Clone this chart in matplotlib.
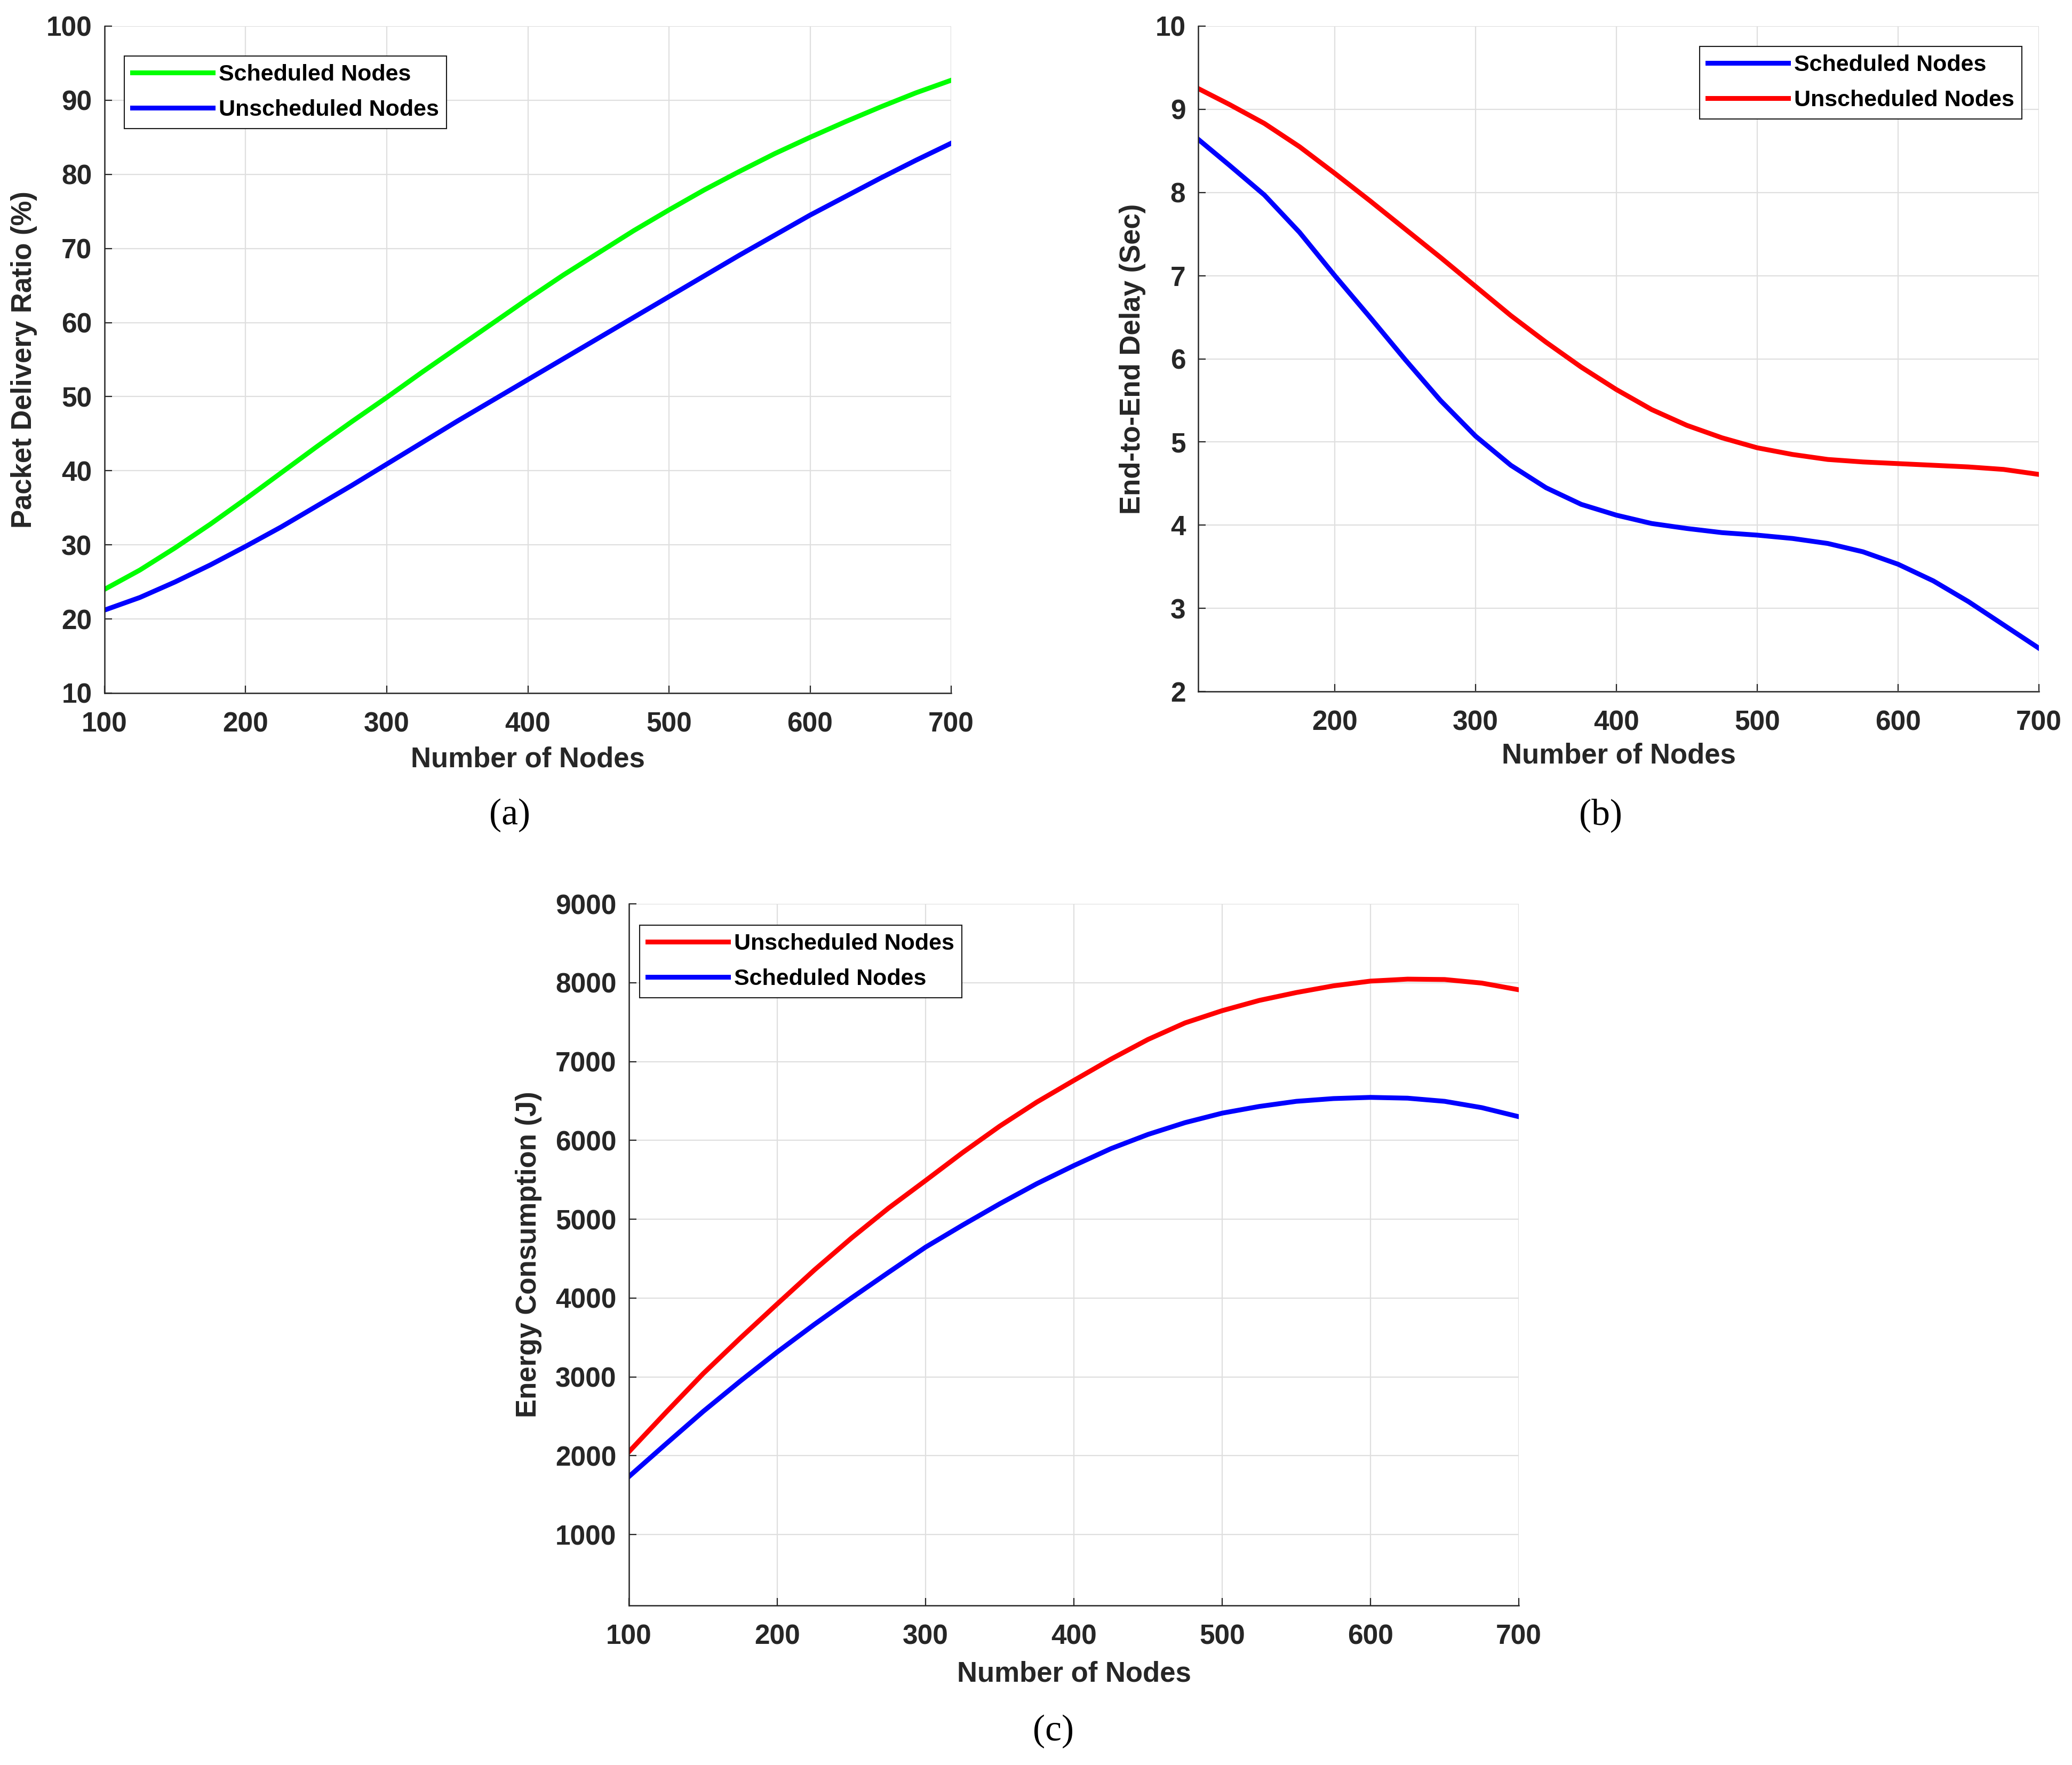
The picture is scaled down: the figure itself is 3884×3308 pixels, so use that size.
import matplotlib.pyplot as plt

# number of nodes (x axis), read every 25 nodes
nodes = [100, 125, 150, 175, 200, 225, 250, 275, 300, 325, 350, 375, 400,
         425, 450, 475, 500, 525, 550, 575, 600, 625, 650, 675, 700]
delay_nodes = [103, 125, 150, 175, 200, 225, 250, 275, 300, 325, 350, 375, 400,
               425, 450, 475, 500, 525, 550, 575, 600, 625, 650, 675, 700]

# (a) packet delivery ratio (%)
pdr_scheduled = [24.0, 26.6, 29.6, 32.8, 36.2, 39.7, 43.2, 46.6, 49.9, 53.3, 56.6, 59.9, 63.2,
                 66.4, 69.4, 72.4, 75.2, 77.9, 80.4, 82.8, 85.0, 87.1, 89.1, 91.0, 92.7]
pdr_unscheduled = [21.2, 22.9, 25.0, 27.3, 29.8, 32.4, 35.2, 38.0, 40.9, 43.8, 46.7, 49.5, 52.3,
                   55.1, 57.9, 60.7, 63.5, 66.3, 69.1, 71.8, 74.5, 77.0, 79.5, 81.9, 84.2]

# (b) end-to-end delay (sec)
delay_scheduled = [8.64, 8.33, 7.97, 7.52, 7.00, 6.50, 5.99, 5.50, 5.07, 4.72, 4.45, 4.25, 4.12,
                   4.02, 3.96, 3.91, 3.88, 3.84, 3.78, 3.68, 3.53, 3.33, 3.08, 2.80, 2.52]
delay_unscheduled = [9.25, 9.06, 8.83, 8.55, 8.23, 7.90, 7.56, 7.22, 6.87, 6.52, 6.20, 5.90, 5.63,
                     5.39, 5.20, 5.05, 4.93, 4.85, 4.79, 4.76, 4.74, 4.72, 4.70, 4.67, 4.61]

# (c) energy consumption (J)
energy_unscheduled = [2050, 2550, 3040, 3490, 3925, 4355, 4760, 5140, 5490, 5845, 6180, 6485, 6760,
                      7030, 7280, 7490, 7645, 7775, 7875, 7960, 8020, 8045, 8040, 7995, 7910]
energy_scheduled = [1735, 2150, 2560, 2945, 3315, 3665, 4000, 4325, 4645, 4925, 5195, 5450, 5680,
                    5895, 6075, 6225, 6345, 6430, 6495, 6530, 6545, 6535, 6495, 6415, 6300]

W, H = 3884, 3308
TEXT = '#262626'
plt.rcParams['font.family'] = ['Liberation Sans', 'DejaVu Sans']
plt.rcParams['font.weight'] = 'bold'


def style_axes(ax, xlim, ylim, xticks, yticks, xlabel, ylabel, xlab_y, ylab_x):
    ax.set_xlim(xlim)
    ax.set_ylim(ylim)
    ax.set_xticks(xticks)
    ax.set_yticks(yticks)
    ax.grid(True, color='#dfdfdf', linewidth=1.6)
    ax.set_axisbelow(True)
    ax.spines['top'].set_visible(False)
    ax.spines['right'].set_visible(False)
    for side in ['left', 'bottom']:
        ax.spines[side].set_linewidth(1.8)
        ax.spines[side].set_color(TEXT)
    ax.tick_params(direction='in', length=10, width=1.6, colors=TEXT,
                   labelsize=37, top=False, right=False)
    ax.tick_params(axis='x', pad=25)
    ax.tick_params(axis='y', pad=17)
    for lab in ax.get_xticklabels() + ax.get_yticklabels():
        lab.set_fontweight('bold')
    ax.set_xlabel(xlabel, fontsize=38, fontweight='bold', color=TEXT, va='center')
    ax.set_ylabel(ylabel, fontsize=38, fontweight='bold', color=TEXT, va='center')
    ax.xaxis.set_label_coords(0.5, xlab_y)
    ax.yaxis.set_label_coords(ylab_x, 0.5)


def add_legend(ax, loc, anchor):
    leg = ax.legend(loc=loc, bbox_to_anchor=anchor, fontsize=31, frameon=True,
                    fancybox=False, edgecolor='#1a1a1a', framealpha=1,
                    borderaxespad=0, borderpad=0.35, handlelength=3.5,
                    handletextpad=0.25, labelspacing=0.6)
    leg.get_frame().set_linewidth(1.5)
    for t in leg.get_texts():
        t.set_fontweight('bold')
    return leg


fig = plt.figure(figsize=(W / 100, H / 100), dpi=100)

# (a)
ax1 = fig.add_axes([196 / W, 1 - 1299 / H, (1783 - 196) / W, (1299 - 49) / H])
ax1.plot(nodes, pdr_scheduled, color='#00ff00', linewidth=6.5, label='Scheduled Nodes')
ax1.plot(nodes, pdr_unscheduled, color='#0000ff', linewidth=6.5, label='Unscheduled Nodes')
style_axes(ax1, (100, 700), (10, 100), range(100, 701, 100), range(10, 101, 10),
           'Number of Nodes', 'Packet Delivery Ratio (%)', -0.10, -0.095)
add_legend(ax1, 'upper left', (0.0233, 0.955))

# (b)
ax2 = fig.add_axes([2246 / W, 1 - 1296 / H, (3822 - 2246) / W, (1296 - 49) / H])
ax2.plot(delay_nodes, delay_scheduled, color='#0000ff', linewidth=6.5, label='Scheduled Nodes')
ax2.plot(delay_nodes, delay_unscheduled, color='#ff0000', linewidth=6.5, label='Unscheduled Nodes')
style_axes(ax2, (103, 700), (2, 10), range(200, 701, 100), range(2, 11, 1),
           'Number of Nodes', 'End-to-End Delay (Sec)', -0.097, -0.078)
add_legend(ax2, 'upper right', (0.98, 0.9695))

# (c)
ax3 = fig.add_axes([1179 / W, 1 - 3009 / H, (2847 - 1179) / W, (3009 - 1694) / H])
ax3.plot(nodes, energy_unscheduled, color='#ff0000', linewidth=6.5, label='Unscheduled Nodes')
ax3.plot(nodes, energy_scheduled, color='#0000ff', linewidth=6.5, label='Scheduled Nodes')
style_axes(ax3, (100, 700), (100, 9000), range(100, 701, 100), range(1000, 9001, 1000),
           'Number of Nodes', 'Energy Consumption (J)', -0.098, -0.1127)
add_legend(ax3, 'upper left', (0.012, 0.9696))

# captions
for label, cx, cy in [('(a)', 955, 1528), ('(b)', 3000, 1528), ('(c)', 1974, 3245)]:
    fig.text(cx / W, 1 - cy / H, label, fontsize=50, family='Liberation Serif',
             fontweight='normal', ha='center', va='center', color='black')

fig.savefig('out.png', dpi=100, facecolor='white')
